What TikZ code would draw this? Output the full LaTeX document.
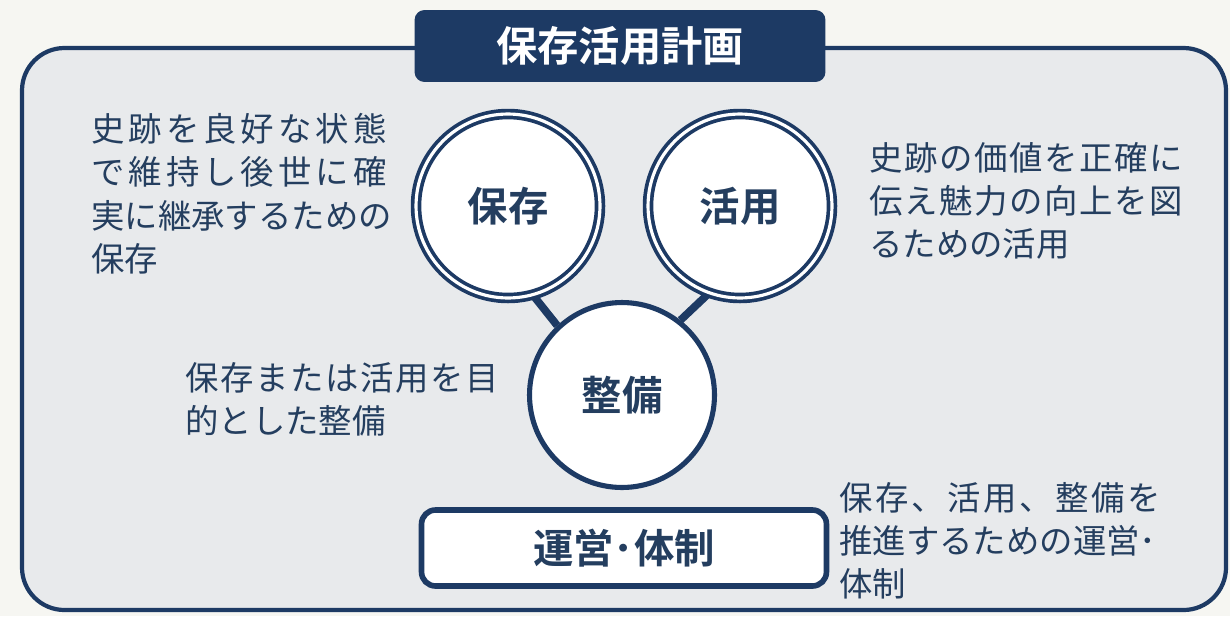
\documentclass[tikz,border=0pt]{standalone}
\usepackage{fontspec}
\setmainfont{Noto Sans CJK JP}[BoldFont={Noto Sans CJK JP Bold}]
\usepackage{tikz}
\usetikzlibrary{positioning,backgrounds}
\definecolor{navy}{RGB}{29,58,100}
\definecolor{inkblue}{RGB}{36,62,95}
\definecolor{panelgray}{RGB}{232,234,236}
\definecolor{paper}{RGB}{246,246,242}
% spread one line of text (tracking in percent)
\newcommand{\spreadrow}[2]{{\addfontfeatures{LetterSpace=#1}#2}}
\tikzset{
  frame/.style={draw=navy,line width=2.4pt,fill=panelgray,rounded corners=0.85cm},
  titlebox/.style={rectangle,rounded corners=0.2cm,fill=navy,text=white,
                   font=\fontsize{23.5}{26}\selectfont\bfseries,
                   minimum width=8.22cm,minimum height=1.44cm,inner sep=0pt},
  ring/.style={circle,draw=navy,fill=white,line width=2.1pt,double=white,
               double distance=1.8pt,minimum size=3.68cm,inner sep=0pt,
               text=inkblue,font=\fontsize{23}{26}\selectfont\bfseries},
  oring/.style={circle,draw=navy,fill=white,line width=2.9pt,minimum size=3.7cm,
                inner sep=0pt,text=inkblue,font=\fontsize{23}{26}\selectfont\bfseries},
  unit/.style={rectangle,rounded corners=0.28cm,draw=navy,fill=white,line width=3.2pt,
               minimum width=8.1cm,minimum height=1.52cm,inner sep=0pt,
               text=inkblue,font=\fontsize{23}{26}\selectfont\bfseries},
  note/.style={anchor=north west,align=left,inner sep=0pt,text=inkblue,
               font=\fontsize{19}{24.6}\selectfont},
  link/.style={draw=navy,line width=4.4pt},
}
\begin{document}
\begin{tikzpicture}[x=0.02cm,y=-0.02cm]
  \useasboundingbox (0,0) rectangle (1230,616);
  % ── the three circles ──
  \node[ring]  (hozon)   at (508,206) {保存};
  \node[ring]  (katsuyo) at (740,206) {活用};
  \node[oring] (seibi)   at (622,395) {整備};
  % ── paper, outer panel (behind), then the links between the circles ──
  \begin{scope}[on background layer]
    \fill[paper] (0,0) rectangle (1230,616);
    \draw[frame] (22,48) rectangle (1226,610);
    \draw[link] (hozon.-74) -- (seibi.133);
    \draw[link] (katsuyo.-110) -- (seibi.52);
  \end{scope}
  \node[titlebox] (title) at (620,46) {保存活用計画};
  % ── operation box ──
  \node[unit] (unei) at (624,548) {運営･体制};
  % ── explanations (rows justified by hand) ──
  \node[note] (hozontxt) at (91,113)
    {\spreadrow{12}{史跡を良好な状態}\\\spreadrow{12}{で維持し後世に確}\\実に継承するための\\保存};
  \node[note] (katsuyotxt) at (869,142)
    {\spreadrow{5}{史跡の価値を正確に}\\\spreadrow{5}{伝え魅力の向上を図}\\るための活用};
  \node[note] (seibitxt) at (185,362)
    {\spreadrow{5}{保存または活用を目}\\的とした整備};
  \node[note] (uneitxt) at (839,482)
    {\spreadrow{8}{保存、活用、整備を}\\推進するための運営･\\体制};
\end{tikzpicture}
\end{document}
